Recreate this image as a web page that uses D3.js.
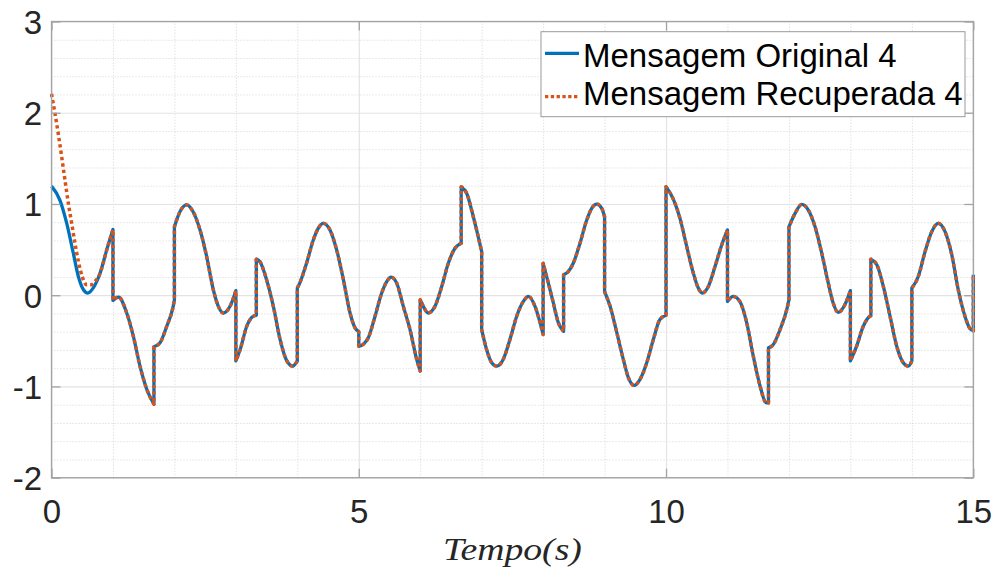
<!DOCTYPE html>
<html>
<head>
<meta charset="utf-8">
<script src="https://cdn.jsdelivr.net/npm/d3@7"></script>
<style>
  body { margin: 0; background: #fff; }
  svg { display: block; }
</style>
</head>
<body>
<svg id="chart" width="999" height="572"></svg>
<script>
// Sampled message signal; a repeated time marks a jump (discontinuity).
const originalTime = [
  0, 0.138, 0.247, 0.355, 0.437, 0.52, 0.59, 0.68, 0.79, 0.9, 1.0,
  1.0, 1.09, 1.224, 1.332, 1.44, 1.55, 1.667,
  1.667, 1.766, 1.875, 1.98, 2.0,
  2.0, 2.09, 2.2, 2.3, 2.417, 2.525, 2.633, 2.715, 2.796, 2.905, 3.0,
  3.0, 3.07, 3.177, 3.285, 3.333,
  3.333, 3.39, 3.5, 3.61, 3.72, 3.83, 3.925, 4.0,
  4.0, 4.04, 4.15, 4.26, 4.34, 4.423, 4.532, 4.64, 4.75, 4.858, 4.94, 5.0,
  5.0, 5.07, 5.155, 5.265, 5.373, 5.455, 5.525, 5.617, 5.725, 5.834, 5.943, 6.0,
  6.0, 6.05, 6.13, 6.24, 6.35, 6.457, 6.566, 6.667,
  6.667, 6.757, 6.864, 6.93, 7.0,
  7.0, 7.08, 7.163, 7.245, 7.35, 7.46, 7.57, 7.678, 7.76, 7.868, 7.95, 8.0,
  8.0, 8.085, 8.166, 8.247, 8.333,
  8.333, 8.41, 8.49, 8.6, 8.71, 8.79, 8.872, 8.954, 9.0,
  9.0, 9.09, 9.2, 9.305, 9.387, 9.48, 9.577, 9.686, 9.793, 9.9, 10.0,
  10.0, 10.12, 10.228, 10.337, 10.444, 10.525, 10.59, 10.688, 10.797, 10.906, 11.0,
  11.0, 11.095, 11.2, 11.313, 11.42, 11.53, 11.627, 11.667,
  11.667, 11.746, 11.855, 11.964, 12.0,
  12.0, 12.1, 12.208, 12.316, 12.425, 12.534, 12.64, 12.72, 12.8, 12.91, 13.0,
  13.0, 13.1, 13.21, 13.32, 13.333,
  13.333, 13.43, 13.536, 13.645, 13.754, 13.86, 13.943, 14.0,
  14.0, 14.105, 14.215, 14.324, 14.43, 14.54, 14.65, 14.755, 14.864, 14.94, 15.0,
  15.0
];
const originalValue = [
  1.195, 1.04, 0.79, 0.46, 0.205, 0.06, 0.024, 0.08, 0.24, 0.5, 0.72,
  -0.057, -0.02, -0.195, -0.45, -0.777, -1.03, -1.195,
  -0.566, -0.522, -0.34, -0.122, -0.05,
  0.75, 0.915, 0.99, 0.92, 0.715, 0.424, 0.06, -0.122, -0.195, -0.122, 0.05,
  -0.72, -0.595, -0.34, -0.23, -0.22,
  0.395, 0.37, 0.17, -0.122, -0.486, -0.72, -0.777, -0.72,
  0.078, 0.133, 0.35, 0.606, 0.733, 0.788, 0.715, 0.497, 0.17, -0.195, -0.358, -0.40,
  -0.56, -0.54, -0.467, -0.23, 0.024, 0.15, 0.198, 0.133, -0.122, -0.377, -0.704, -0.83,
  -0.05, -0.122, -0.195, -0.122, 0.096, 0.35, 0.515, 0.57,
  1.188, 1.115, 0.86, 0.68, 0.478,
  -0.377, -0.595, -0.74, -0.777, -0.704, -0.486, -0.23, -0.068, -0.013, -0.122, -0.30, -0.43,
  0.35, 0.133, -0.085, -0.30, -0.395,
  0.224, 0.26, 0.35, 0.57, 0.824, 0.952, 0.999, 0.952, 0.86,
  0.04, -0.122, -0.413, -0.704, -0.904, -0.988, -0.922, -0.74, -0.486, -0.267, -0.22,
  1.19, 1.05, 0.84, 0.533, 0.242, 0.078, 0.024, 0.096, 0.314, 0.551, 0.715,
  -0.068, -0.013, -0.068, -0.303, -0.668, -0.995, -1.177, -1.18,
  -0.577, -0.54, -0.377, -0.158, -0.05,
  0.75, 0.897, 0.995, 0.933, 0.75, 0.46, 0.133, -0.085, -0.188, -0.104, 0.05,
  -0.72, -0.56, -0.34, -0.23, -0.225,
  0.395, 0.333, 0.096, -0.23, -0.56, -0.74, -0.777, -0.72,
  0.078, 0.205, 0.478, 0.697, 0.788, 0.697, 0.442, 0.06, -0.23, -0.36, -0.39,
  0.224
];

// Recovered signal: start-up transient, then it follows the original.
const recoveredHeadTime = [0, 0.057, 0.11, 0.166, 0.22, 0.274, 0.328, 0.382, 0.437, 0.50, 0.57, 0.65, 0.72];
const recoveredHeadValue = [2.207, 1.99, 1.77, 1.515, 1.26, 1.007, 0.79, 0.57, 0.37, 0.205, 0.115, 0.115, 0.16];
const recoveredJoinTime = 0.79;

const xTicks = [0, 5, 10, 15];
const yTicks = [-2, -1, 0, 1, 2, 3];
const seriesNames = ["Mensagem Original 4", "Mensagem Recuperada 4"];
const xLabel = "Tempo(s)";

const colors = { original: "#0072BD", recovered: "#D95319" };
const plot = { left: 51.5, right: 973.3, top: 21.5, bottom: 477.7 };

const svg = d3.select("#chart");
const x = d3.scaleLinear().domain([0, 15]).range([plot.left, plot.right]);
const y = d3.scaleLinear().domain([-2, 3]).range([plot.bottom, plot.top]);
const plotW = plot.right - plot.left, plotH = plot.bottom - plot.top;

// Minor grid (dotted)
const xMinor = d3.range(0, 15.001, 1).filter(v => v % 5 !== 0);
const yMinor = d3.range(-2, 3.0001, 0.2).map(v => +v.toFixed(1)).filter(v => Math.abs(v - Math.round(v)) > 1e-6);
const gridMinor = svg.append("g").attr("class", "grid-minor");
gridMinor.append("g").attr("transform", `translate(0,${plot.bottom})`)
  .call(d3.axisBottom(x).tickValues(xMinor).tickSize(-plotH).tickFormat(""));
gridMinor.append("g").attr("transform", `translate(${plot.left},0)`)
  .call(d3.axisLeft(y).tickValues(yMinor).tickSize(-plotW).tickFormat(""));
gridMinor.selectAll(".domain").remove();
gridMinor.selectAll("line").attr("stroke", "#d4d4d4").attr("stroke-width", 1).attr("stroke-dasharray", "1,2");

// Major grid
const gridMajor = svg.append("g").attr("class", "grid-major");
gridMajor.append("g").attr("transform", `translate(0,${plot.bottom})`)
  .call(d3.axisBottom(x).tickValues(xTicks).tickSize(-plotH).tickFormat(""));
gridMajor.append("g").attr("transform", `translate(${plot.left},0)`)
  .call(d3.axisLeft(y).tickValues(yTicks).tickSize(-plotW).tickFormat(""));
gridMajor.selectAll(".domain").remove();
gridMajor.selectAll("line").attr("stroke", "#e3e3e3").attr("stroke-width", 1.2);

// Build the path: each continuous run is a monotone curve, runs joined by vertical jumps
function splitRuns(ts, vs) {
  const runs = [];
  let cur = [];
  ts.forEach((t, i) => {
    if (i > 0 && t === ts[i - 1]) { runs.push(cur); cur = []; }
    cur.push([t, vs[i]]);
  });
  if (cur.length) runs.push(cur);
  return runs;
}
const runLine = d3.line().x(d => x(d[0])).y(d => y(d[1])).curve(d3.curveMonotoneX);
function jumpPath(ts, vs) {
  return splitRuns(ts, vs).map((run, i) => {
    const p = run.length > 1 ? runLine(run) : `M${x(run[0][0])},${y(run[0][1])}`;
    return i === 0 ? p : "L" + p.slice(1);
  }).join("");
}

const recoveredTime = recoveredHeadTime.concat(originalTime.filter(t => t >= recoveredJoinTime));
const recoveredValue = recoveredHeadValue.concat(originalValue.filter((v, i) => originalTime[i] >= recoveredJoinTime));

svg.append("clipPath").attr("id", "plotClip").append("rect")
  .attr("x", plot.left - 3).attr("y", plot.top).attr("width", plotW + 6).attr("height", plotH);

const lines = svg.append("g").attr("clip-path", "url(#plotClip)");
lines.append("path")
  .attr("d", jumpPath(originalTime, originalValue))
  .attr("fill", "none").attr("stroke", colors.original).attr("stroke-width", 3.3)
  .attr("stroke-linejoin", "round");
lines.append("path")
  .attr("d", jumpPath(recoveredTime, recoveredValue))
  .attr("fill", "none").attr("stroke", colors.recovered).attr("stroke-width", 3.5)
  .attr("stroke-linejoin", "round")
  .attr("stroke-dasharray", "3.4,3");

// Axes box
svg.append("rect")
  .attr("x", plot.left).attr("y", plot.top).attr("width", plotW).attr("height", plotH)
  .attr("fill", "none").attr("stroke", "#a3a3a3").attr("stroke-width", 1.3);

const fontFamily = "'Liberation Sans', Arial, Helvetica, sans-serif";
const tickLen = 9;
const plainFormat = d => String(d);

const axB = svg.append("g").attr("transform", `translate(0,${plot.bottom})`)
  .call(d3.axisBottom(x).tickValues(xTicks).tickSize(-tickLen).tickSizeOuter(0).tickPadding(22).tickFormat(plainFormat));
const axT = svg.append("g").attr("transform", `translate(0,${plot.top})`)
  .call(d3.axisTop(x).tickValues(xTicks).tickSize(-tickLen).tickSizeOuter(0).tickFormat(""));
const axL = svg.append("g").attr("transform", `translate(${plot.left},0)`)
  .call(d3.axisLeft(y).tickValues(yTicks).tickSize(-tickLen).tickSizeOuter(0).tickPadding(9.5).tickFormat(plainFormat));
const axR = svg.append("g").attr("transform", `translate(${plot.right},0)`)
  .call(d3.axisRight(y).tickValues(yTicks).tickSize(-tickLen).tickSizeOuter(0).tickFormat(""));
[axB, axT, axL, axR].forEach(g => {
  g.select(".domain").remove();
  g.selectAll(".tick line").attr("stroke", "#a3a3a3").attr("stroke-width", 1.3);
  g.selectAll(".tick text").attr("fill", "#262626").style("font-family", fontFamily).style("font-size", "33px");
});
axL.selectAll(".tick text").attr("dy", "0.36em");

// X label
svg.append("text")
  .attr("x", (plot.left + plot.right) / 2).attr("y", 560)
  .attr("text-anchor", "middle")
  .attr("textLength", 139).attr("lengthAdjust", "spacingAndGlyphs")
  .style("font-family", "'Liberation Serif', 'Times New Roman', serif")
  .style("font-style", "italic").style("font-size", "32px").attr("fill", "#262626")
  .text(xLabel);

// Legend
const legend = svg.append("g");
legend.append("rect")
  .attr("x", 541).attr("y", 31.7).attr("width", 424).attr("height", 85)
  .attr("fill", "#fff").attr("stroke", "#9a9a9a").attr("stroke-width", 1);
const legendRows = [
  { name: seriesNames[0], color: colors.original, dash: null, y: 53.3, base: 66.5 },
  { name: seriesNames[1], color: colors.recovered, dash: "3.3,2.5", y: 96.7, base: 105 }
];
legendRows.forEach(r => {
  legend.append("line").attr("x1", 545).attr("x2", 579).attr("y1", r.y).attr("y2", r.y)
    .attr("stroke", r.color).attr("stroke-width", 3.3).attr("stroke-dasharray", r.dash);
  legend.append("text").attr("x", 583).attr("y", r.base)
    .style("font-family", fontFamily).style("font-size", "33px").attr("fill", "#000")
    .text(r.name);
});
</script>
</body>
</html>
